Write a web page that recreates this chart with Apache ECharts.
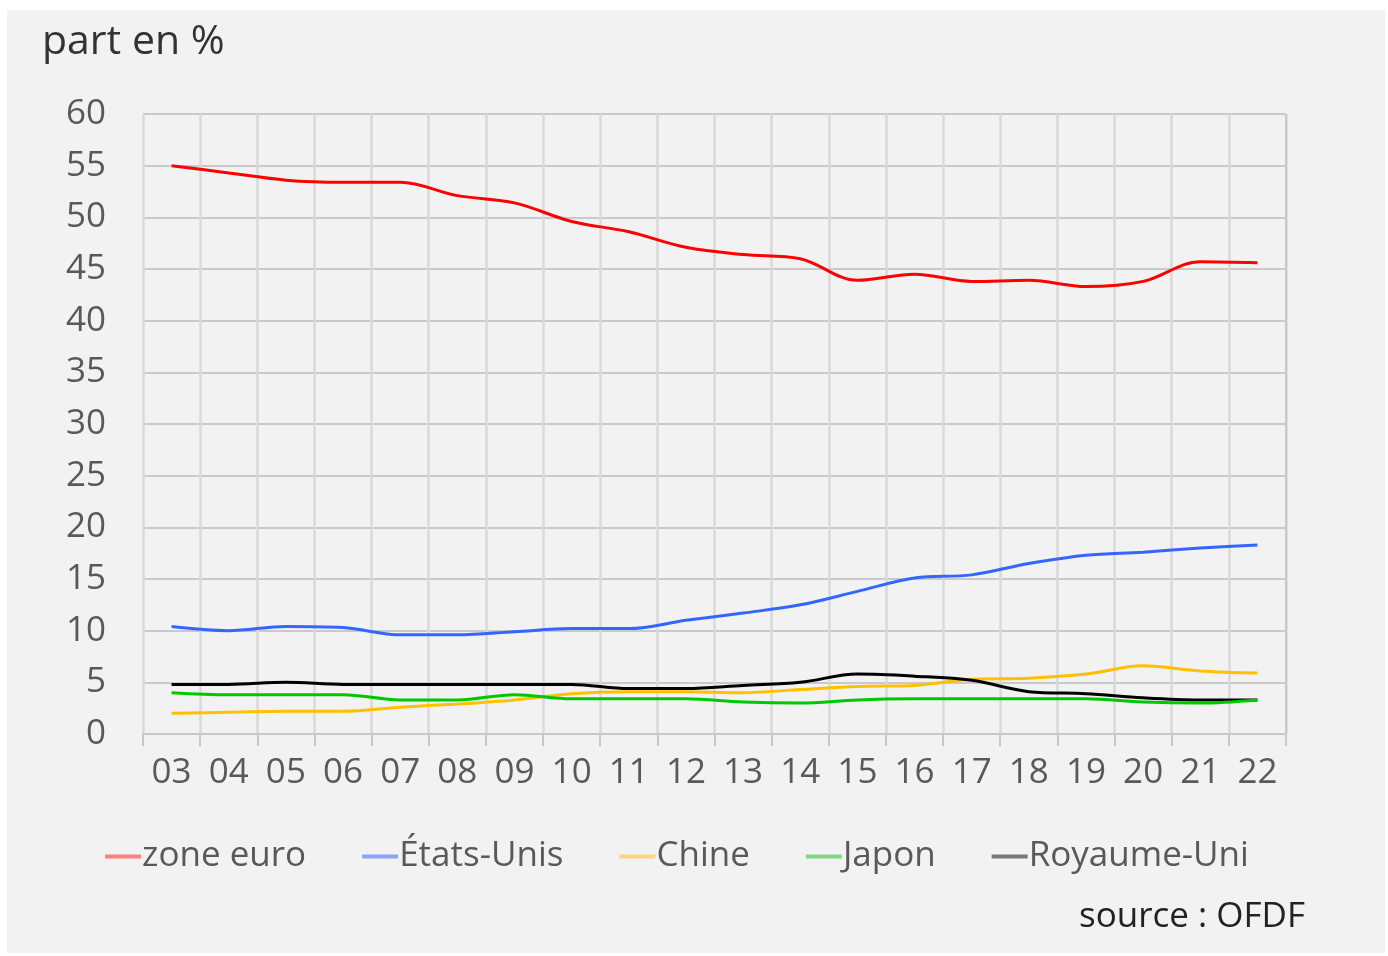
<!DOCTYPE html>
<html>
<head>
<meta charset="utf-8">
<script src="https://cdn.jsdelivr.net/npm/echarts@6/dist/echarts.min.js"></script>
<style>
  html, body { margin: 0; padding: 0; background: #ffffff; }
  .panel { position: absolute; left: 7px; top: 10px; width: 1378px; height: 943px; background: #f2f2f2; }
  #main { position: absolute; left: 0; top: 0; width: 1388px; height: 956px; }
</style>
</head>
<body>
<div class="panel"></div>
<div id="main"></div>
<script>
  // années 2003 -> 2022
  const annees = ['03','04','05','06','07','08','09','10','11','12','13','14','15','16','17','18','19','20','21','22'];
  const zoneEuro = [55.0, 54.3, 53.6, 53.4, 53.4, 52.1, 51.4, 49.6, 48.6, 47.1, 46.4, 46.0, 43.9, 44.5, 43.8, 43.9, 43.3, 43.8, 45.7, 45.6];
  const etatsUnis = [10.4, 10.0, 10.4, 10.3, 9.6, 9.6, 9.9, 10.2, 10.2, 11.0, 11.7, 12.5, 13.8, 15.1, 15.4, 16.5, 17.3, 17.6, 18.0, 18.3];
  const chine = [2.0, 2.1, 2.2, 2.2, 2.6, 2.9, 3.3, 3.9, 4.1, 4.1, 4.0, 4.3, 4.6, 4.7, 5.3, 5.4, 5.8, 6.6, 6.1, 5.9];
  const japon = [4.0, 3.8, 3.8, 3.8, 3.3, 3.3, 3.8, 3.4, 3.4, 3.4, 3.1, 3.0, 3.3, 3.4, 3.4, 3.4, 3.4, 3.1, 3.0, 3.3];
  const royaumeUni = [4.8, 4.8, 5.0, 4.8, 4.8, 4.8, 4.8, 4.8, 4.4, 4.4, 4.7, 5.0, 5.8, 5.6, 5.2, 4.1, 3.9, 3.5, 3.3, 3.3];

  const police = '"Open Sans", "DejaVu Sans", sans-serif';

  var myChart = echarts.init(document.getElementById('main'));

  function serie(nom, donnees, couleur) {
    return {
      name: nom,
      type: 'line',
      data: donnees,
      smooth: 0.35,
      symbol: 'none',
      lineStyle: { color: couleur, width: 3 },
      itemStyle: { color: couleur }
    };
  }

  myChart.setOption({
    animation: false,
    backgroundColor: 'transparent',
    title: {
      text: 'part en %',
      left: 37,
      top: 17,
      textStyle: { fontFamily: police, fontSize: 41, fontWeight: 'normal', color: '#333333' }
    },
    legend: {
      left: 100,
      top: 834,
      itemGap: 56,
      itemWidth: 36,
      itemHeight: 4,
      icon: 'rect',
      textStyle: { fontFamily: police, fontSize: 35, color: '#595959', padding: [0, 0, 0, -4] },
      data: [
        { name: 'zone euro', itemStyle: { color: '#ff8080' } },
        { name: 'États-Unis', itemStyle: { color: '#8da2ff' } },
        { name: 'Chine', itemStyle: { color: '#ffd47a' } },
        { name: 'Japon', itemStyle: { color: '#80d880' } },
        { name: 'Royaume-Uni', itemStyle: { color: '#7a7a7a' } }
      ]
    },
    grid: { left: 143, top: 114, width: 1143, height: 620 },
    xAxis: {
      type: 'category',
      data: annees,
      boundaryGap: true,
      axisLine: { show: true, lineStyle: { color: '#c8c8c8', width: 2 } },
      axisTick: { show: true, length: 12, lineStyle: { color: '#c8c8c8', width: 2 } },
      splitLine: { show: true, lineStyle: { color: '#d9d9d9', width: 2.5 } },
      axisLabel: { fontFamily: police, fontSize: 35, color: '#595959', margin: 22, interval: 0 }
    },
    yAxis: {
      type: 'value',
      min: 0,
      max: 60,
      interval: 5,
      axisLine: { show: false },
      axisTick: { show: false },
      splitLine: { show: true, lineStyle: { color: '#c9c9c9', width: 2 } },
      axisLabel: { fontFamily: police, fontSize: 35, color: '#595959', margin: 37 }
    },
    graphic: [
      {
        type: 'line',
        shape: { x1: 1286, y1: 114, x2: 1286, y2: 746 },
        style: { stroke: '#cacaca', lineWidth: 2 },
        z: 1
      },
      {
        type: 'text',
        right: 83,
        top: 900,
        style: { text: 'source : OFDF', font: '35px ' + police, fill: '#222222' }
      }
    ],
    series: [
      serie('zone euro', zoneEuro, '#ff0000'),
      serie('États-Unis', etatsUnis, '#3366ff'),
      serie('Chine', chine, '#ffc000'),
      serie('Royaume-Uni', royaumeUni, '#000000'),
      serie('Japon', japon, '#00c800')
    ]
  });
</script>
</body>
</html>
